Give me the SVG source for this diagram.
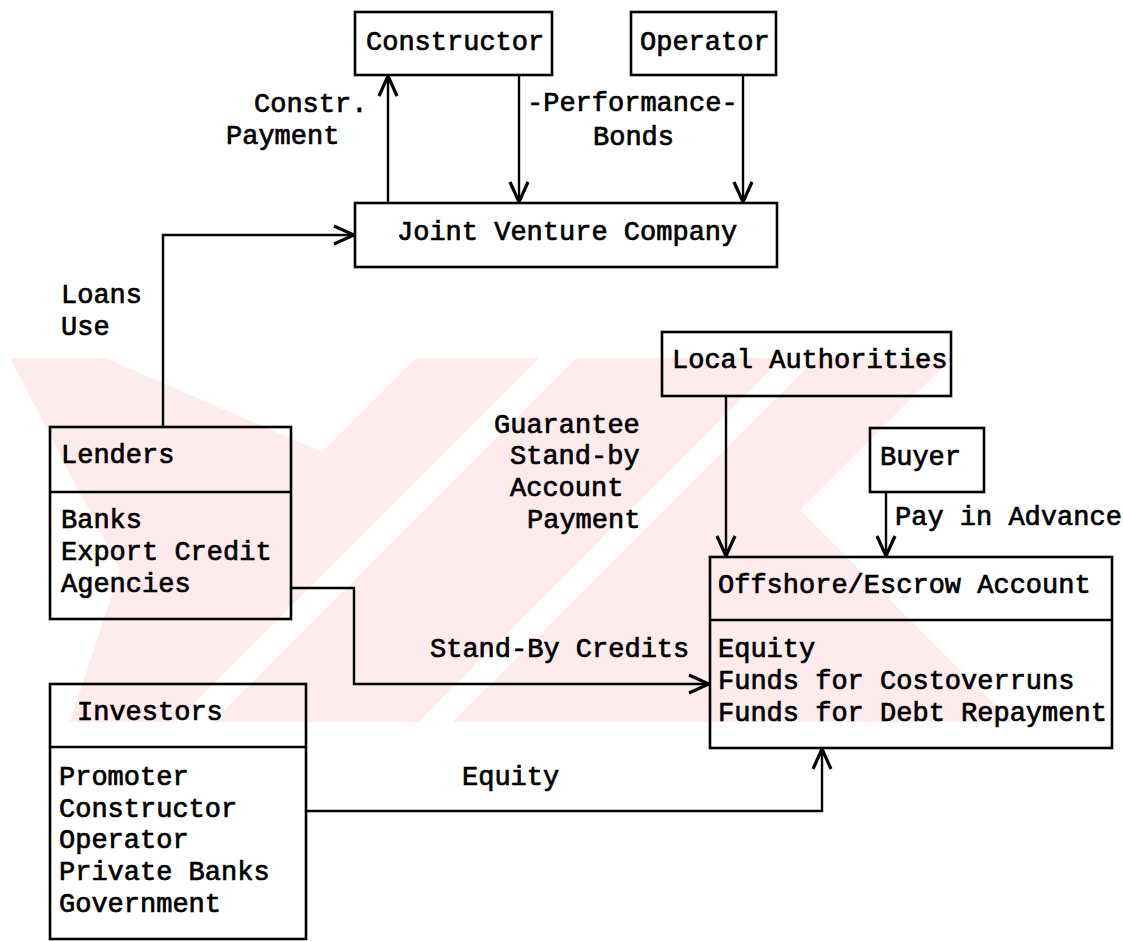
<svg xmlns="http://www.w3.org/2000/svg" width="1123" height="941" viewBox="0 0 1123 941">
<style>
text{font-family:"Liberation Mono","DejaVu Sans Mono",monospace;font-size:27px;fill:#000;stroke:#000;stroke-width:0.7}
.box{fill:none;stroke:#000;stroke-width:2.6}
.ln{fill:none;stroke:#000;stroke-width:2.4}
.wm{fill:#fdebee}
.wh{fill:#fff}
</style>
<defs>
<marker id="arr" markerUnits="userSpaceOnUse" viewBox="-22 -12 24 24" refX="0" refY="0" markerWidth="24" markerHeight="24" orient="auto">
<path d="M-20,-9 L0,0 L-20,9" fill="none" stroke="#000" stroke-width="3.2"/>
</marker>
</defs>
<rect width="1123" height="941" fill="#fff"/>
<g id="watermark">
<polygon class="wm" points="10,358 1010,358 1010,722 70,722 120,570"/>
<polygon class="wh" points="105,358 322,452 416,358"/>
<polygon class="wh" points="539,358 577,358 213,722 175,722"/>
<polygon class="wh" points="782,358 817,358 453,722 418,722"/>
<polygon class="wh" points="952,358 800,510 1010,720 1010,358"/>
</g>
<g id="connectors">
<line class="ln" x1="388" y1="202" x2="388" y2="76" marker-end="url(#arr)"/>
<line class="ln" x1="519" y1="75" x2="519" y2="202" marker-end="url(#arr)"/>
<line class="ln" x1="743" y1="75" x2="743" y2="202" marker-end="url(#arr)"/>
<polyline class="ln" points="163,427 163,235 354,235" marker-end="url(#arr)"/>
<polyline class="ln" points="291,588 354,588 354,684 709,684" marker-end="url(#arr)"/>
<line class="ln" x1="726" y1="396" x2="726" y2="556" marker-end="url(#arr)"/>
<line class="ln" x1="886" y1="492" x2="886" y2="556" marker-end="url(#arr)"/>
<polyline class="ln" points="306,811 822,811 822,749" marker-end="url(#arr)"/>
</g>
<g id="labels">
<text x="254" y="112">Constr.</text>
<text x="226" y="144">Payment</text>
<text x="527" y="111">-Performance-</text>
<text x="593" y="145">Bonds</text>
<text x="61" y="303">Loans</text>
<text x="61" y="335">Use</text>
<text x="494" y="433">Guarantee</text>
<text x="510" y="464">Stand-by</text>
<text x="510" y="496">Account</text>
<text x="527" y="528">Payment</text>
<text x="895" y="525">Pay in Advance</text>
<text x="430" y="657">Stand-By Credits</text>
<text x="462" y="785">Equity</text>
</g>
<g id="constructor">
<rect class="box" x="355" y="12" width="197" height="63"/>
<text x="366" y="50">Constructor</text>
</g>
<g id="operator">
<rect class="box" x="631" y="12" width="145" height="63"/>
<text x="640" y="50">Operator</text>
</g>
<g id="jv">
<rect class="box" x="355" y="203" width="422" height="64"/>
<text x="397" y="240">Joint Venture Company</text>
</g>
<g id="lenders">
<rect class="box" x="50" y="427" width="241" height="192"/>
<line class="box" x1="50" y1="492" x2="291" y2="492"/>
<text x="61" y="463">Lenders</text>
<text x="61" y="528">Banks</text>
<text x="61" y="560">Export Credit</text>
<text x="61" y="592">Agencies</text>
</g>
<g id="investors">
<rect class="box" x="50" y="684" width="256" height="255"/>
<line class="box" x1="50" y1="747" x2="306" y2="747"/>
<text x="77" y="720">Investors</text>
<text x="59" y="785">Promoter</text>
<text x="59" y="817">Constructor</text>
<text x="59" y="848">Operator</text>
<text x="59" y="880">Private Banks</text>
<text x="59" y="912">Government</text>
</g>
<g id="local-authorities">
<rect class="box" x="662" y="332" width="289" height="64"/>
<text x="672" y="368">Local Authorities</text>
</g>
<g id="buyer">
<rect class="box" x="870" y="428" width="114" height="64"/>
<text x="880" y="465">Buyer</text>
</g>
<g id="offshore">
<rect class="box" x="710" y="557" width="402" height="191"/>
<line class="box" x1="710" y1="620" x2="1112" y2="620"/>
<text x="718" y="593">Offshore/Escrow Account</text>
<text x="718" y="657">Equity</text>
<text x="718" y="689">Funds for Costoverruns</text>
<text x="718" y="721">Funds for Debt Repayment</text>
</g>
</svg>
